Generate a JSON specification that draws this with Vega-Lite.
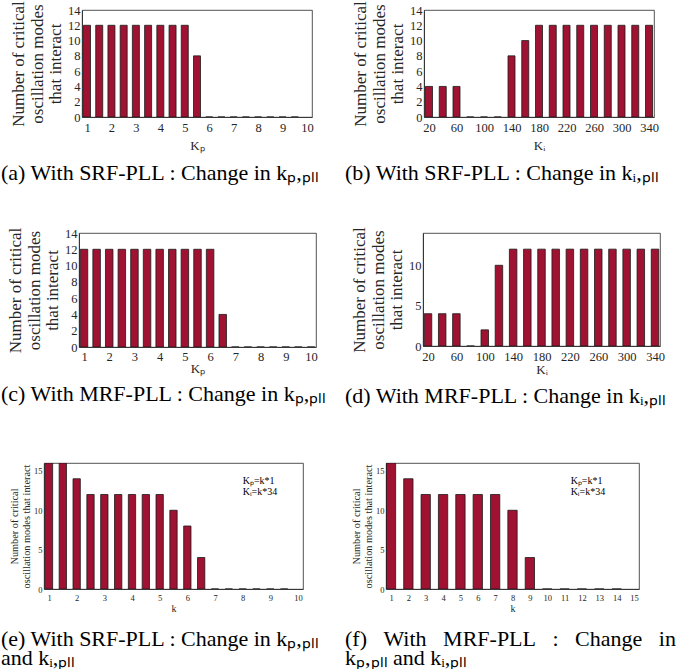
{
  "$schema": "https://vega.github.io/schema/vega-lite/v6.json",
  "padding": {"left": 0, "top": 0, "right": 0, "bottom": 0},
  "background": "white",
  "config": {
    "font": "Liberation Serif",
    "view": {"stroke": "#262626", "strokeWidth": 0.8},
    "axis": {"grid": false, "ticks": false, "labelOverlap": false, "domainColor": "#262626", "domainWidth": 0.8, "labelColor": "#262626", "titleColor": "#262626", "labelFont": "Liberation Serif", "titleFont": "Liberation Serif", "titleFontWeight": "normal", "labelFontSize": 12.5, "titleFontSize": 17, "labelPadding": 2},
    "title": {"font": "Liberation Serif", "fontWeight": "normal", "fontSize": 22, "color": "#000", "orient": "bottom", "anchor": "start", "frame": "group"}
  },
  "datasets": {
    "a": [
      {"x": 1, "v": 12}, {"x": 1.5, "v": 12}, {"x": 2, "v": 12}, {"x": 2.5, "v": 12}, {"x": 3, "v": 12}, {"x": 3.5, "v": 12}, {"x": 4, "v": 12}, {"x": 4.5, "v": 12}, {"x": 5, "v": 12}, {"x": 5.5, "v": 8},
      {"x": 6, "v": 0}, {"x": 6.5, "v": 0}, {"x": 7, "v": 0}, {"x": 7.5, "v": 0}, {"x": 8, "v": 0}, {"x": 8.5, "v": 0}, {"x": 9, "v": 0}, {"x": 9.5, "v": 0}
    ],
    "b": [
      {"x": 20, "v": 4}, {"x": 40, "v": 4}, {"x": 60, "v": 4}, {"x": 80, "v": 0}, {"x": 100, "v": 0}, {"x": 120, "v": 0}, {"x": 140, "v": 8}, {"x": 160, "v": 10}, {"x": 180, "v": 12},
      {"x": 200, "v": 12}, {"x": 220, "v": 12}, {"x": 240, "v": 12}, {"x": 260, "v": 12}, {"x": 280, "v": 12}, {"x": 300, "v": 12}, {"x": 320, "v": 12}, {"x": 340, "v": 12}
    ],
    "c": [
      {"x": 1, "v": 12}, {"x": 1.5, "v": 12}, {"x": 2, "v": 12}, {"x": 2.5, "v": 12}, {"x": 3, "v": 12}, {"x": 3.5, "v": 12}, {"x": 4, "v": 12}, {"x": 4.5, "v": 12}, {"x": 5, "v": 12}, {"x": 5.5, "v": 12}, {"x": 6, "v": 12}, {"x": 6.5, "v": 4},
      {"x": 7, "v": 0}, {"x": 7.5, "v": 0}, {"x": 8, "v": 0}, {"x": 8.5, "v": 0}, {"x": 9, "v": 0}, {"x": 9.5, "v": 0}, {"x": 10, "v": 0}
    ],
    "d": [
      {"x": 20, "v": 4}, {"x": 40, "v": 4}, {"x": 60, "v": 4}, {"x": 80, "v": 0}, {"x": 100, "v": 2}, {"x": 120, "v": 10}, {"x": 140, "v": 12}, {"x": 160, "v": 12}, {"x": 180, "v": 12},
      {"x": 200, "v": 12}, {"x": 220, "v": 12}, {"x": 240, "v": 12}, {"x": 260, "v": 12}, {"x": 280, "v": 12}, {"x": 300, "v": 12}, {"x": 320, "v": 12}, {"x": 340, "v": 12}
    ],
    "e": [
      {"x": 1, "v": 16}, {"x": 1.5, "v": 16}, {"x": 2, "v": 14}, {"x": 2.5, "v": 12}, {"x": 3, "v": 12}, {"x": 3.5, "v": 12}, {"x": 4, "v": 12}, {"x": 4.5, "v": 12}, {"x": 5, "v": 12}, {"x": 5.5, "v": 10}, {"x": 6, "v": 8}, {"x": 6.5, "v": 4},
      {"x": 7, "v": 0}, {"x": 7.5, "v": 0}, {"x": 8, "v": 0}, {"x": 8.5, "v": 0}, {"x": 9, "v": 0}, {"x": 9.5, "v": 0}
    ],
    "f": [
      {"x": 1, "v": 16}, {"x": 2, "v": 14}, {"x": 3, "v": 12}, {"x": 4, "v": 12}, {"x": 5, "v": 12}, {"x": 6, "v": 12}, {"x": 7, "v": 12}, {"x": 8, "v": 10}, {"x": 9, "v": 4},
      {"x": 10, "v": 0}, {"x": 11, "v": 0}, {"x": 12, "v": 0}, {"x": 13, "v": 0}, {"x": 14, "v": 0}
    ],
    "notes": [
      {"panel": "e", "x": 8, "v": 13.7, "t": "Kₚ=k*1"},
      {"panel": "e", "x": 8, "v": 12.3, "t": "Kᵢ=k*34"},
      {"panel": "f", "x": 11.35, "v": 13.7, "t": "Kₚ=k*1"},
      {"panel": "f", "x": 11.35, "v": 12.3, "t": "Kᵢ=k*34"}
    ]
  },
  "spacing": 42,
  "vconcat": [
    {
      "bounds": "flush",
      "spacing": 0,
      "hconcat": [
        {"width": 82, "height": 1, "view": {"stroke": null}, "data": {"values": []}, "mark": "point", "encoding": {}},
        {
          "width": 230, "height": 107,
          "data": {"name": "a"},
          "title": {"text": "(a) With SRF-PLL : Change in kₚ,ₚₗₗ", "dx": -81, "offset": 10},
          "mark": {"type": "bar", "orient": "vertical", "size": 7, "clip": true, "fill": "#a01232", "stroke": "#1a1a1a", "strokeWidth": 0.8},
          "encoding": {
            "x": {"field": "x", "type": "quantitative", "scale": {"domain": [1, 10], "nice": false, "zero": false}, "axis": {"values": [1,2,3,4,5,6,7,8,9,10], "title": "Kₚ", "titleFontSize": 13, "labelPadding": 4, "titlePadding": 6}},
            "y": {"field": "v", "type": "quantitative", "scale": {"domain": [0, 14], "nice": false}, "axis": {"values": [0,2,4,6,8,10,12,14], "title": ["Number of critical", "oscillation modes", "that interact"], "titleLineHeight": 18.5, "titlePadding": 3}}
          }
        },
        {"width": 112, "height": 1, "view": {"stroke": null}, "data": {"values": []}, "mark": "point", "encoding": {}},
        {
          "width": 230, "height": 107,
          "data": {"name": "b"},
          "title": {"text": "(b) With SRF-PLL : Change in kᵢ,ₚₗₗ", "dx": -79, "offset": 10},
          "mark": {"type": "bar", "orient": "vertical", "size": 7, "clip": true, "fill": "#a01232", "stroke": "#1a1a1a", "strokeWidth": 0.8},
          "encoding": {
            "x": {"field": "x", "type": "quantitative", "scale": {"domain": [20, 340], "nice": false, "zero": false}, "axis": {"values": [20,60,100,140,180,220,260,300,340], "title": "Kᵢ", "titleFontSize": 13, "labelPadding": 4, "titlePadding": 6}},
            "y": {"field": "v", "type": "quantitative", "scale": {"domain": [0, 14], "nice": false}, "axis": {"values": [0,2,4,6,8,10,12,14], "title": ["Number of critical", "oscillation modes", "that interact"], "titleLineHeight": 18.5, "titlePadding": 3}}
          }
        }
      ]
    },
    {
      "bounds": "flush",
      "spacing": 0,
      "hconcat": [
        {"width": 79, "height": 1, "view": {"stroke": null}, "data": {"values": []}, "mark": "point", "encoding": {}},
        {
          "width": 237, "height": 114,
          "data": {"name": "c"},
          "title": {"text": ["(c) With MRF-PLL : Change in kₚ,ₚₗₗ", " "], "dx": -78, "offset": 8, "lineHeight": 13},
          "mark": {"type": "bar", "orient": "vertical", "size": 7.5, "clip": true, "fill": "#a01232", "stroke": "#1a1a1a", "strokeWidth": 0.8},
          "encoding": {
            "x": {"field": "x", "type": "quantitative", "scale": {"domain": [1, 10], "nice": false, "zero": false}, "axis": {"values": [1,2,3,4,5,6,7,8,9,10], "title": "Kₚ", "titleFontSize": 13, "labelPadding": 3, "titlePadding": 0}},
            "y": {"field": "v", "type": "quantitative", "scale": {"domain": [0, 14], "nice": false}, "axis": {"values": [0,2,4,6,8,10,12,14], "title": ["Number of critical", "oscillation modes", "that interact"], "titleLineHeight": 18.5, "titlePadding": 3}}
          }
        },
        {"width": 107, "height": 1, "view": {"stroke": null}, "data": {"values": []}, "mark": "point", "encoding": {}},
        {
          "width": 237, "height": 113,
          "data": {"name": "d"},
          "title": {"text": ["(d) With MRF-PLL : Change in kᵢ,ₚₗₗ", " "], "dx": -78, "offset": 9, "lineHeight": 13},
          "mark": {"type": "bar", "orient": "vertical", "size": 7.5, "clip": true, "fill": "#a01232", "stroke": "#1a1a1a", "strokeWidth": 0.8},
          "encoding": {
            "x": {"field": "x", "type": "quantitative", "scale": {"domain": [20, 340], "nice": false, "zero": false}, "axis": {"values": [20,60,100,140,180,220,260,300,340], "title": "Kᵢ", "titleFontSize": 13, "labelPadding": 4, "titlePadding": 1}},
            "y": {"field": "v", "type": "quantitative", "scale": {"domain": [0, 14], "nice": false}, "axis": {"values": [0,5,10], "title": ["Number of critical", "oscillation modes", "that interact"], "titleLineHeight": 18.5, "titlePadding": 3}}
          }
        }
      ]
    },
    {
      "bounds": "flush",
      "spacing": 0,
      "hconcat": [
        {"width": 44, "height": 1, "view": {"stroke": null}, "data": {"values": []}, "mark": "point", "encoding": {}},
        {
          "width": 259, "height": 126,
          "title": {"text": ["(e) With SRF-PLL : Change in kₚ,ₚₗₗ", "and kᵢ,ₚₗₗ"], "dx": -43, "offset": 15, "lineHeight": 19},
          "encoding": {
            "x": {"field": "x", "type": "quantitative", "scale": {"domain": [1, 10], "nice": false, "zero": false}, "axis": {"values": [1,2,3,4,5,6,7,8,9,10], "title": "k", "titleFontSize": 10, "labelFontSize": 8.5, "labelPadding": 4, "titlePadding": 2}},
            "y": {"field": "v", "type": "quantitative", "scale": {"domain": [0, 16], "nice": false}, "axis": {"values": [0,5,10,15], "title": ["Number of critical", "oscillation modes that interact"], "titleFontSize": 10.3, "labelFontSize": 8.5, "titleLineHeight": 12, "titlePadding": 2}}
          },
          "layer": [
            {
              "data": {"name": "e"},
              "mark": {"type": "bar", "orient": "vertical", "size": 7.3, "clip": true, "fill": "#a01232", "stroke": "#1a1a1a", "strokeWidth": 0.8}
            },
            {
              "data": {"name": "notes"},
              "transform": [{"filter": "datum.panel == 'e'"}],
              "mark": {"type": "text", "align": "left", "baseline": "middle", "fontSize": 10, "color": "#000"},
              "encoding": {"text": {"field": "t"}}
            }
          ]
        },
        {"width": 83, "height": 1, "view": {"stroke": null}, "data": {"values": []}, "mark": "point", "encoding": {}},
        {
          "width": 253, "height": 126,
          "title": {"text": ["(f)\u00a0\u00a0\u00a0With\u00a0\u00a0\u00a0MRF-PLL\u00a0\u00a0\u00a0:\u00a0\u00a0\u00a0Change\u00a0\u00a0\u00a0in", "kₚ,ₚₗₗ and kᵢ,ₚₗₗ"], "dx": -41, "offset": 15, "lineHeight": 19},
          "encoding": {
            "x": {"field": "x", "type": "quantitative", "scale": {"domain": [1, 15], "nice": false, "zero": false}, "axis": {"values": [1,2,3,4,5,6,7,8,9,10,11,12,13,14,15], "title": "k", "titleFontSize": 10, "labelFontSize": 8.5, "labelPadding": 4, "titlePadding": 2}},
            "y": {"field": "v", "type": "quantitative", "scale": {"domain": [0, 16], "nice": false}, "axis": {"values": [0,5,10,15], "title": ["Number of critical", "oscillation modes that interact"], "titleFontSize": 10.3, "labelFontSize": 8.5, "titleLineHeight": 12, "titlePadding": 2}}
          },
          "layer": [
            {
              "data": {"name": "f"},
              "mark": {"type": "bar", "orient": "vertical", "size": 9.3, "clip": true, "fill": "#a01232", "stroke": "#1a1a1a", "strokeWidth": 0.8}
            },
            {
              "data": {"name": "notes"},
              "transform": [{"filter": "datum.panel == 'f'"}],
              "mark": {"type": "text", "align": "left", "baseline": "middle", "fontSize": 10, "color": "#000"},
              "encoding": {"text": {"field": "t"}}
            }
          ]
        }
      ]
    }
  ]
}
